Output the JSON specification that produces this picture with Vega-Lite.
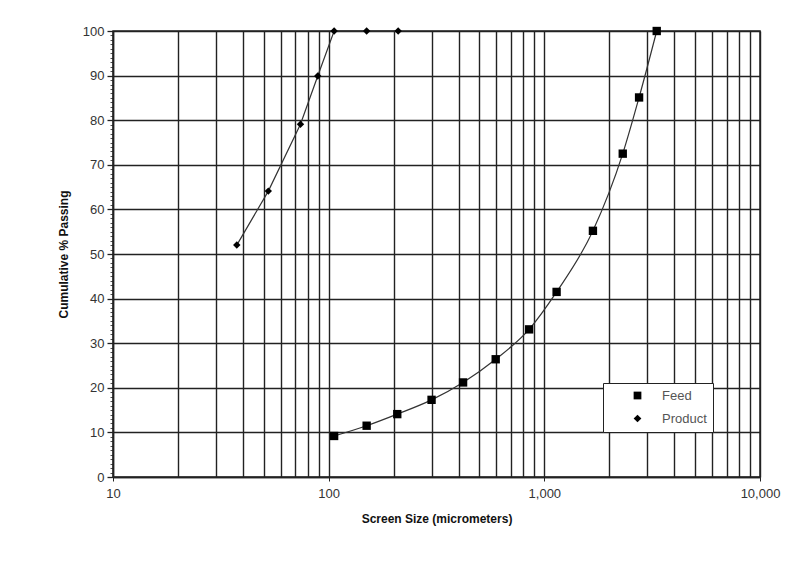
{
  "$schema": "https://vega.github.io/schema/vega-lite/v6.json",
  "width": 647,
  "height": 446,
  "autosize": "none",
  "padding": {"left": 113, "top": 31, "right": 49, "bottom": 85},
  "background": "white",
  "config": {
    "view": {"stroke": "#222", "strokeWidth": 1.5},
    "font": "Liberation Sans",
    "axis": {
      "domainColor": "#222",
      "domainWidth": 1.5,
      "gridColor": "#222",
      "gridWidth": 1.4,
      "gridOpacity": 1,
      "tickColor": "#222",
      "labelFont": "Liberation Sans",
      "labelFontSize": 13,
      "labelColor": "#333",
      "titleFont": "Liberation Sans",
      "titleFontSize": 12,
      "titleFontWeight": "bold",
      "titleColor": "#111",
      "labelOverlap": false,
      "labelFlush": false
    },
    "legend": {
      "orient": "none",
      "legendX": 490,
      "legendY": 352,
      "padding": 6,
      "strokeColor": "#222",
      "fillColor": "white",
      "symbolSize": 60,
      "symbolOffset": 22,
      "labelOffset": 18,
      "rowPadding": 8,
      "labelFont": "Liberation Sans",
      "labelFontSize": 13,
      "labelColor": "#555"
    }
  },
  "data": {
    "values": [
      {"series": "Feed", "size": 106, "passing": 9.2},
      {"series": "Feed", "size": 150, "passing": 11.5},
      {"series": "Feed", "size": 208, "passing": 14.1},
      {"series": "Feed", "size": 300, "passing": 17.3},
      {"series": "Feed", "size": 420, "passing": 21.2},
      {"series": "Feed", "size": 595, "passing": 26.4},
      {"series": "Feed", "size": 850, "passing": 33.1},
      {"series": "Feed", "size": 1140, "passing": 41.5},
      {"series": "Feed", "size": 1680, "passing": 55.2},
      {"series": "Feed", "size": 2310, "passing": 72.5},
      {"series": "Feed", "size": 2750, "passing": 85.1},
      {"series": "Feed", "size": 3320, "passing": 100},
      {"series": "Product", "size": 37.5, "passing": 52.0},
      {"series": "Product", "size": 52.5, "passing": 64.1},
      {"series": "Product", "size": 74, "passing": 79.1},
      {"series": "Product", "size": 89, "passing": 89.9},
      {"series": "Product", "size": 106, "passing": 100},
      {"series": "Product", "size": 150, "passing": 100},
      {"series": "Product", "size": 210, "passing": 100}
    ]
  },
  "encoding": {
    "x": {
      "field": "size",
      "type": "quantitative",
      "scale": {"type": "log", "domain": [10, 10000], "nice": false},
      "axis": {
        "title": "Screen Size (micrometers)",
        "values": [10, 20, 30, 40, 50, 60, 70, 80, 90, 100, 200, 300, 400, 500, 600, 700, 800, 900, 1000, 2000, 3000, 4000, 5000, 6000, 7000, 8000, 9000, 10000],
        "format": ",",
        "labelExpr": "(datum.value == 10 || datum.value == 100 || datum.value == 1000 || datum.value == 10000) ? format(datum.value, ',') : ''",
        "tickSize": {"condition": {"test": "datum.value == 10 || datum.value == 100 || datum.value == 1000 || datum.value == 10000", "value": 4}, "value": 0},
        "labelPadding": 6,
        "titlePadding": 13
      }
    },
    "y": {
      "field": "passing",
      "type": "quantitative",
      "scale": {"domain": [0, 100], "nice": false, "zero": true},
      "axis": {
        "title": "Cumulative % Passing",
        "values": [0,1,2,3,4,5,6,7,8,9,10,11,12,13,14,15,16,17,18,19,20,21,22,23,24,25,26,27,28,29,30,31,32,33,34,35,36,37,38,39,40,41,42,43,44,45,46,47,48,49,50,51,52,53,54,55,56,57,58,59,60,61,62,63,64,65,66,67,68,69,70,71,72,73,74,75,76,77,78,79,80,81,82,83,84,85,86,87,88,89,90,91,92,93,94,95,96,97,98,99,100],
        "labelExpr": "datum.value % 10 === 0 ? datum.label : ''",
        "gridOpacity": {"condition": {"test": "datum.value % 10 === 0", "value": 1}, "value": 0},
        "tickSize": {"condition": {"test": "datum.value % 10 === 0", "value": 6}, "value": 3},
        "tickWidth": {"condition": {"test": "datum.value % 10 === 0", "value": 1.3}, "value": 0.8},
        "labelPadding": 3,
        "titlePadding": 12
      }
    }
  },
  "layer": [
    {
      "transform": [{"filter": "datum.series === 'Feed'"}],
      "mark": {"type": "line", "color": "#333", "strokeWidth": 1.2, "interpolate": "monotone"}
    },
    {
      "transform": [{"filter": "datum.series === 'Product'"}],
      "mark": {"type": "line", "color": "#333", "strokeWidth": 1.2}
    },
    {
      "mark": {"type": "point", "filled": true, "color": "#000", "opacity": 1},
      "encoding": {
        "size": {"condition": {"test": "datum.series === 'Feed'", "value": 70}, "value": 55},
        "shape": {
          "field": "series",
          "type": "nominal",
          "scale": {"domain": ["Feed", "Product"], "range": ["square", "diamond"]},
          "legend": {"title": null}
        }
      }
    }
  ]
}
